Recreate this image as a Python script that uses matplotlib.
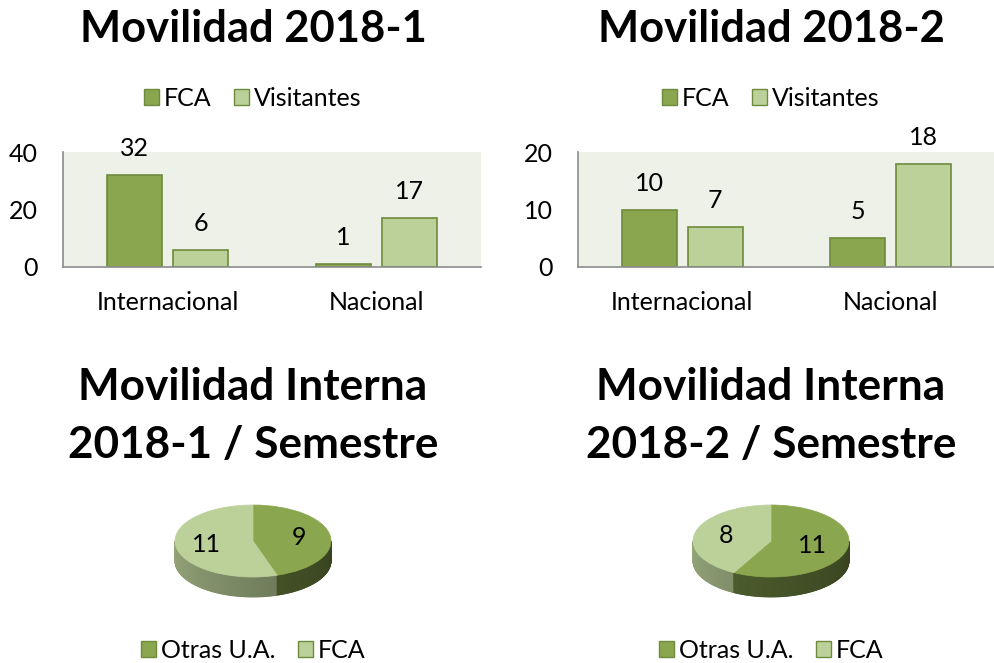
import numpy as np
import matplotlib
matplotlib.use("Agg")
import matplotlib.pyplot as plt
from matplotlib.patches import Wedge, Polygon, Patch
from matplotlib.colors import to_rgb

plt.rcParams['font.family'] = ['Lato', 'DejaVu Sans']

# ---- data ----
bar_categories = ["Internacional", "Nacional"]
bar_series = ["FCA", "Visitantes"]
fca_2018_1 = [32, 1]
vis_2018_1 = [6, 17]
fca_2018_2 = [10, 5]
vis_2018_2 = [7, 18]
ticks_2018_1 = [0, 20, 40]
ticks_2018_2 = [0, 10, 20]

pie_labels = ["Otras U.A.", "FCA"]
pie_2018_1 = [9, 11]
pie_2018_2 = [11, 8]

titles_bar = ["Movilidad 2018-1", "Movilidad 2018-2"]
titles_pie = ["Movilidad Interna\n2018-1 / Semestre", "Movilidad Interna\n2018-2 / Semestre"]

# ---- style ----
DARK = "#8AA64F"
LIGHT = "#BCD19A"
EDGE = "#6E8A3C"
BG = "#EEF1E8"
W, H = 995, 663
FS = 18

fig = plt.figure(figsize=(W / 100, H / 100), dpi=100)


def fr(x0, y0, x1, y1):
    return [x0 / W, 1 - y1 / H, (x1 - x0) / W, (y1 - y0) / H]


def legend_at(cx, cy, labels, spacing):
    fig.legend(handles=[Patch(facecolor=DARK, edgecolor=EDGE, label=labels[0]),
                        Patch(facecolor=LIGHT, edgecolor=EDGE, label=labels[1])],
               loc="center", bbox_to_anchor=(cx / W, 1 - cy / H), ncol=2, frameon=False,
               fontsize=FS, handlelength=0.6, handleheight=0.6, handletextpad=0.2,
               columnspacing=spacing)


def bar_panel(x0, x1, fca, vis, ticks, title, cx):
    ax = fig.add_axes(fr(x0, 152, x1, 267))
    ax.set_facecolor(BG)
    x = np.arange(len(bar_categories))
    bw = 0.264
    off = 0.158
    b1 = ax.bar(x - off, fca, bw, color=DARK, edgecolor=EDGE, linewidth=1.2, label=bar_series[0])
    b2 = ax.bar(x + off, vis, bw, color=LIGHT, edgecolor=EDGE, linewidth=1.2, label=bar_series[1])
    for bars in (b1, b2):
        for r in bars:
            ax.annotate(f"{int(r.get_height())}", (r.get_x() + r.get_width() / 2, r.get_height()),
                        xytext=(0, 19), textcoords="offset points", ha="center", va="center",
                        fontsize=FS)
    ax.set_xlim(-0.5, 1.5)
    ax.set_ylim(ticks[0], ticks[-1])
    ax.set_yticks(ticks)
    ax.set_xticks(x)
    ax.set_xticklabels(bar_categories)
    ax.tick_params(length=0, labelsize=FS)
    ax.tick_params(axis='y', pad=18)
    ax.tick_params(axis='x', pad=17)
    for s in ("top", "right"):
        ax.spines[s].set_visible(False)
    for s in ("left", "bottom"):
        ax.spines[s].set_color("#8C8C8C")
        ax.spines[s].set_linewidth(1.2)
    fig.text(cx / W, 1 - 42 / H, title, ha="center", va="baseline", fontsize=31.3, fontweight="bold")
    legend_at(cx, 98, bar_series, 0.9)


bar_panel(63, 481, fca_2018_1, vis_2018_1, ticks_2018_1, titles_bar[0], 253)
bar_panel(578, 995, fca_2018_2, vis_2018_2, ticks_2018_2, titles_bar[1], 771)


def shade(c, f):
    r = np.array(to_rgb(c))
    return tuple(np.clip(r * f, 0, 1))


def pie_panel(cx, cy, vals, title, label_pos_scale):
    a, b, d = 78.0, 36.0, 20.0
    hw, hh = 110.0, 70.0
    ax = fig.add_axes(fr(cx - hw, cy - hh, cx + hw, cy + hh))
    ax.set_xlim(-hw / a, hw / a)
    ax.set_ylim(-hh / b, hh / b)
    ax.set_aspect("auto")
    ax.axis("off")
    depth = d / b
    total = float(sum(vals))
    colors = [DARK, LIGHT]
    bounds = [90.0]
    for v in vals:
        bounds.append(bounds[-1] - 360.0 * v / total)
    n = 240
    ts = np.linspace(np.pi, 2 * np.pi, n + 1)
    for i in range(n):
        t0, t1 = ts[i], ts[i + 1]
        tm = np.degrees((t0 + t1) / 2)
        idx = 0
        for k in range(len(vals)):
            lo, hi = bounds[k + 1], bounds[k]
            ang = tm
            while ang > hi:
                ang -= 360
            while ang < lo:
                ang += 360
            if lo <= ang <= hi:
                idx = k
                break
        frac = (t0 - np.pi) / np.pi
        base = colors[idx]
        f = (0.80 - 0.35 * frac) if idx == 1 else (0.62 - 0.22 * frac)
        col = shade(base, f)
        xs = [np.cos(t0), np.cos(t1), np.cos(t1), np.cos(t0)]
        ys = [np.sin(t0), np.sin(t1), np.sin(t1) - depth, np.sin(t0) - depth]
        ax.add_patch(Polygon(list(zip(xs, ys)), closed=True, facecolor=col, edgecolor=col, linewidth=0.6))
    for k, v in enumerate(vals):
        ax.add_patch(Wedge((0, 0), 1.0, bounds[k + 1], bounds[k], facecolor=colors[k],
                           edgecolor=colors[k], linewidth=0.5))
        mid = np.radians((bounds[k] + bounds[k + 1]) / 2)
        r = label_pos_scale[k]
        ax.text(r * np.cos(mid), r * np.sin(mid), str(v), ha="center", va="center", fontsize=18)
    lines = title.split("\n")
    fig.text(cx / W, 1 - 400 / H, lines[0], ha="center", va="baseline",
             fontsize=31.8, fontweight="bold")
    fig.text(cx / W, 1 - 458 / H, lines[1], ha="center", va="baseline",
             fontsize=31.8, fontweight="bold")
    legend_at(cx, 650, pie_labels, 0.9)


pie_panel(253, 541, pie_2018_1, titles_pie[0], [0.6, 0.6])
pie_panel(771, 541, pie_2018_2, titles_pie[1], [0.55, 0.6])

fig.savefig("out.png", dpi=100, facecolor="white")
